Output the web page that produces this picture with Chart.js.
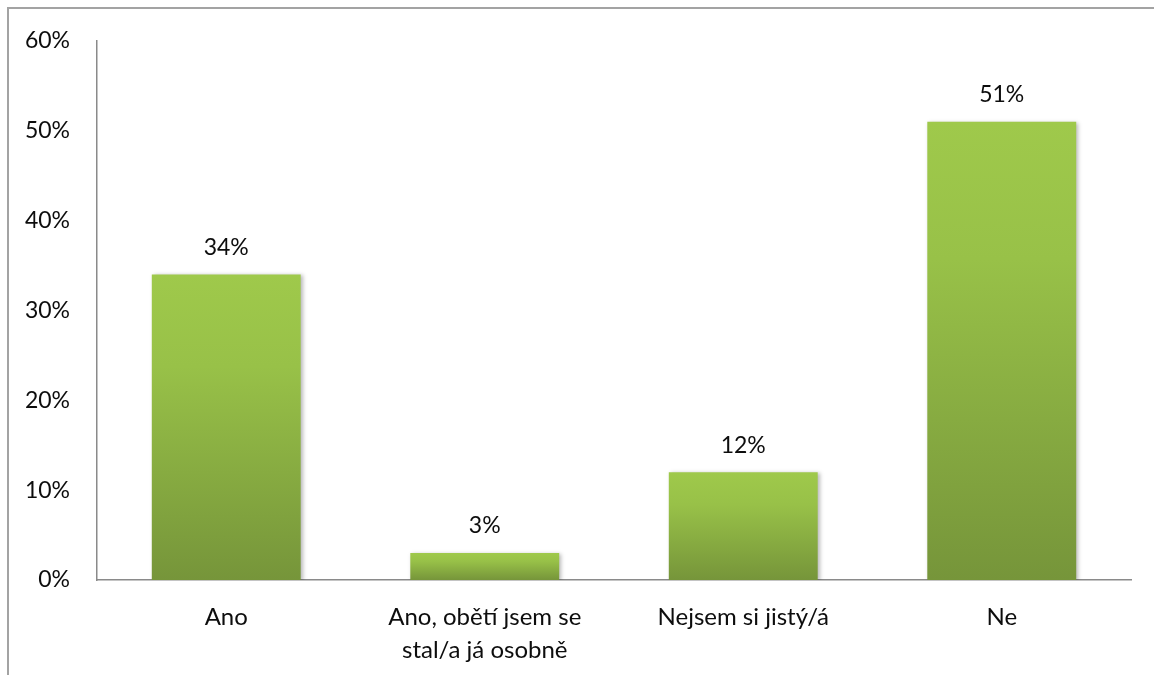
<!DOCTYPE html>
<html>
<head>
<meta charset="utf-8">
<script src="https://cdn.jsdelivr.net/npm/chart.js@4/dist/chart.umd.min.js"></script>
<style>
  html, body { margin: 0; padding: 0; background: #ffffff; }
  #wrap { position: relative; width: 1154px; height: 675px; }
  canvas { display: block; }
</style>
</head>
<body>
<div id="wrap"><canvas id="c" width="1154" height="675"></canvas></div>
<script>
const categories = ["Ano", ["Ano, obětí jsem se", "stal/a já osobně"], "Nejsem si jistý/á", "Ne"];
const values = [34, 3, 12, 51];
const valueLabels = ["34%", "3%", "12%", "51%"];
const yMin = 0, yMax = 60, yStep = 10;

const FONT = 'Lato, "Open Sans", sans-serif';
const FSIZE = 23;
const XSIZE = 24;

const framePlugin = {
  id: 'frame',
  beforeDraw(chart) {
    const ctx = chart.ctx;
    ctx.save();
    ctx.strokeStyle = '#a3a3a3';
    ctx.lineWidth = 2;
    ctx.beginPath();
    ctx.moveTo(8, chart.height);
    ctx.lineTo(8, 8);
    ctx.lineTo(chart.width, 8);
    ctx.stroke();
    ctx.restore();
  }
};

const shadowPlugin = {
  id: 'barShadow',
  beforeDatasetsDraw(chart) {
    const ctx = chart.ctx;
    ctx.save();
    ctx.shadowColor = 'rgba(0,0,0,0.28)';
    ctx.shadowBlur = 4;
    ctx.shadowOffsetX = 2;
    ctx.shadowOffsetY = 1;
  },
  afterDatasetsDraw(chart) {
    chart.ctx.restore();
  }
};

const labelPlugin = {
  id: 'valueLabels',
  afterDatasetsDraw(chart) {
    const ctx = chart.ctx;
    const meta = chart.getDatasetMeta(0);
    ctx.save();
    ctx.font = FSIZE + 'px ' + FONT;
    ctx.fillStyle = '#0d0d0d';
    ctx.textAlign = 'center';
    ctx.textBaseline = 'middle';
    meta.data.forEach((bar, i) => {
      ctx.fillText(valueLabels[i], bar.x, bar.y - 27);
    });
    ctx.restore();
  }
};

function barGradient(context) {
  const chart = context.chart;
  const yScale = chart.scales.y;
  if (!yScale || !chart.chartArea) return '#8db443';
  const v = context.raw;
  const top = yScale.getPixelForValue(v);
  const bottom = yScale.getPixelForValue(0);
  const g = chart.ctx.createLinearGradient(0, top, 0, bottom);
  g.addColorStop(0, '#9fc94b');
  g.addColorStop(0.3, '#98c148');
  g.addColorStop(1, '#76953a');
  return g;
}

new Chart(document.getElementById('c'), {
  type: 'bar',
  data: {
    labels: categories,
    datasets: [{
      data: values,
      backgroundColor: barGradient,
      borderWidth: 0,
      barPercentage: 0.576,
      categoryPercentage: 1.0
    }]
  },
  options: {
    responsive: false,
    animation: false,
    events: [],
    layout: { padding: { left: 0, right: 23, top: 36, bottom: 0 } },
    plugins: {
      legend: { display: false },
      tooltip: { enabled: false }
    },
    scales: {
      x: {
        grid: { display: false, drawTicks: false },
        border: { display: true, color: '#8a8a8a', width: 1.5 },
        ticks: {
          font: { family: FONT, size: XSIZE, lineHeight: 1.4 },
          color: '#0d0d0d',
          padding: 20,
          maxRotation: 0,
          autoSkip: false
        },
        afterFit(scale) { scale.height = 95; }
      },
      y: {
        min: yMin, max: yMax,
        grid: { display: false, drawTicks: false },
        border: { display: true, color: '#8a8a8a', width: 1.5 },
        ticks: {
          stepSize: yStep,
          font: { family: FONT, size: FSIZE },
          color: '#0d0d0d',
          padding: 27,
          callback: (v) => v + '%'
        },
        afterFit(scale) { scale.width = 97; }
      }
    }
  },
  plugins: [framePlugin, shadowPlugin, labelPlugin]
});
</script>
</body>
</html>
